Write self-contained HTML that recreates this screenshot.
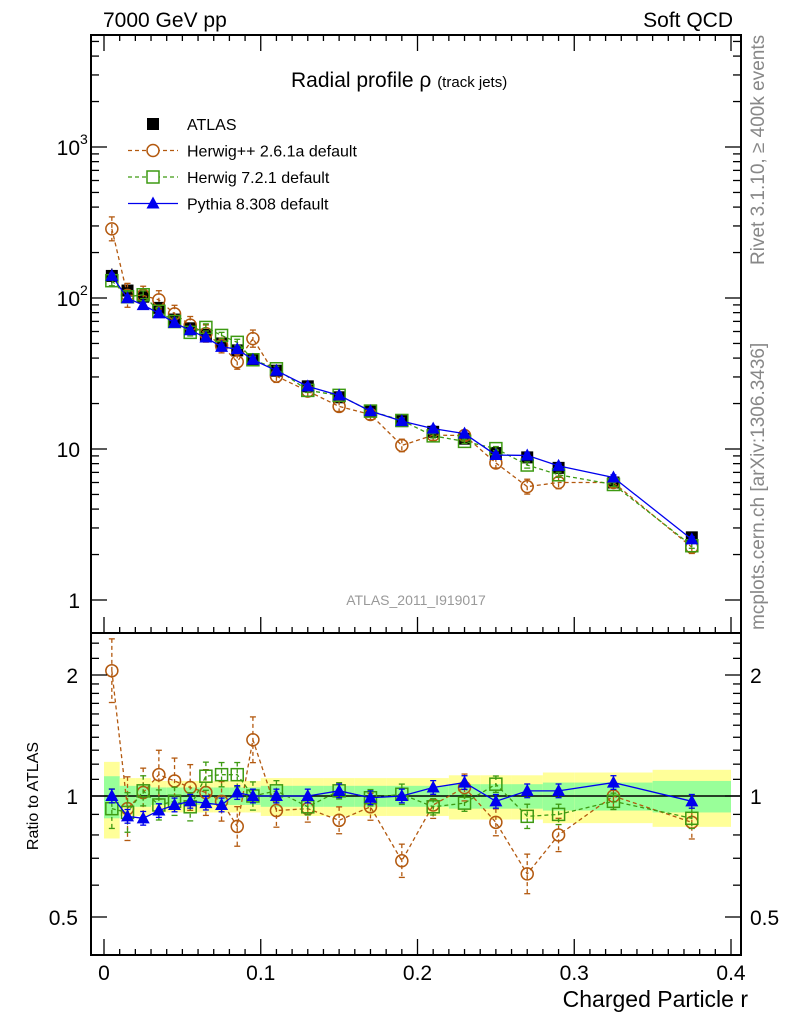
<!DOCTYPE html>
<html><head><meta charset="utf-8"><style>
body{margin:0;background:#fff}
svg{display:block;font-family:"Liberation Sans",Arial,sans-serif}
</style></head><body>
<svg id="c" width="786" height="1024" viewBox="0 0 786 1024"></svg>
<script>
const xs=[0.005,0.015,0.025,0.035,0.045,0.055,0.065,0.075,0.085,0.095,0.11,0.13,0.15,0.17,0.19,0.21,0.23,0.25,0.27,0.29,0.325,0.375];
const atlas=[140,112,102,86,72,63,57,50,45,39,33,26,22,18,15.3,13,11.7,9.4,8.8,7.5,6.0,2.6];
const atlasErr=[0.12,0.06,0.06,0.05,0.05,0.05,0.05,0.05,0.05,0.05,0.06,0.06,0.06,0.06,0.06,0.06,0.07,0.07,0.07,0.08,0.08,0.09];
const herwigpp=[2.05,0.93,1.02,1.13,1.09,1.05,1.02,0.97,0.84,1.38,0.92,0.93,0.87,0.94,0.69,0.95,1.05,0.86,0.64,0.80,1.0,0.86];
const herwig7=[0.93,0.91,1.03,0.95,0.97,0.94,1.12,1.13,1.13,1.00,1.03,0.94,1.03,0.99,1.01,0.94,0.96,1.07,0.89,0.90,0.97,0.88];
const pythia=[1.0,0.89,0.88,0.92,0.95,0.97,0.96,0.95,1.02,1.0,1.0,1.0,1.03,0.99,1.0,1.05,1.08,0.97,1.03,1.03,1.08,0.97];
const hppErr=[0.2,0.2,0.15,0.15,0.14,0.14,0.14,0.12,0.12,0.14,0.1,0.08,0.08,0.08,0.1,0.08,0.08,0.08,0.12,0.1,0.08,0.1];
const xTicks=[0,0.1,0.2,0.3,0.4];
const xTickLabels=["0","0.1","0.2","0.3","0.4"];

const S=document.getElementById('c');const NS="http://www.w3.org/2000/svg";
function el(t,a,p){const e=document.createElementNS(NS,t);for(const k in a)e.setAttribute(k,a[k]);(p||S).appendChild(e);return e;}
const L=91,R=741,T=35,M=633,B=955;
const X=v=>104+v*1567.5;
const Y=v=>600-151*Math.log10(v);
const YR=v=>796-121*Math.log2(v);
const bw=[];for(let i=0;i<xs.length;i++){bw.push(xs[i]<0.1?0.005:(xs[i]<0.3?0.01:0.025));}

const gb=el('g',{},S);
xs.forEach((x,i)=>{const e=atlasErr[i];
 el('rect',{x:X(x-bw[i]),y:YR(1+e*1.8),width:X(x+bw[i])-X(x-bw[i]),height:YR(1-e*1.8)-YR(1+e*1.8),fill:'#ffff99'},gb);
 el('rect',{x:X(x-bw[i]),y:YR(1+e),width:X(x+bw[i])-X(x-bw[i]),height:YR(1-e)-YR(1+e),fill:'#99ff99'},gb);});
el('line',{x1:L,x2:R,y1:YR(1),y2:YR(1),stroke:'#000','stroke-width':1.5});

function clipY(y,top,bot){return Math.max(top,Math.min(bot,y));}
function series(name,vals,color,dash,marker,errs,ratio){
 const g=el('g',{});
 const fy=ratio?(v=>YR(v)):(v=>Y(v));
 const pts=xs.map((x,i)=>[X(x),clipY(fy(ratio?vals[i]:atlas[i]*vals[i]),ratio?M:T,ratio?B:M)]);
 el('polyline',{points:pts.map(p=>p.join(',')).join(' '),fill:'none',stroke:color,'stroke-width':1.3,'stroke-dasharray':dash||''},g);
 xs.forEach((x,i)=>{const v=ratio?vals[i]:atlas[i]*vals[i];const e=errs[i];
  const y1=clipY(fy(v*(1+e)),ratio?M:T,ratio?B:M),y2=clipY(fy(v/(1+e)),ratio?M:T,ratio?B:M),px=X(x);
  el('line',{x1:px,x2:px,y1:y1,y2:y2,stroke:color,'stroke-width':1.3,'stroke-dasharray':dash||''},g);
  el('line',{x1:px-3,x2:px+3,y1:y1,y2:y1,stroke:color,'stroke-width':1.3},g);
  el('line',{x1:px-3,x2:px+3,y1:y2,y2:y2,stroke:color,'stroke-width':1.3},g);
  const py=fy(v);if(py<(ratio?M:T)||py>(ratio?B:M))return;
  if(marker==='o')el('circle',{cx:px,cy:py,r:6,fill:'none',stroke:color,'stroke-width':1.5},g);
  else if(marker==='s')el('rect',{x:px-6,y:py-6,width:12,height:12,fill:'none',stroke:color,'stroke-width':1.5},g);
  else if(marker==='t')el('polygon',{points:`${px},${py-7} ${px-6.5},${py+5} ${px+6.5},${py+5}`,fill:color},g);});
}
const ga=el('g',{});
xs.forEach((x,i)=>{const px=X(x),py=Y(atlas[i]);
 el('line',{x1:px,x2:px,y1:Y(atlas[i]*(1+atlasErr[i])),y2:Y(atlas[i]/(1+atlasErr[i])),stroke:'#000','stroke-width':1.3},ga);
 el('rect',{x:px-6,y:py-6,width:12,height:12,fill:'#000'},ga);});
series('herwigpp-series',herwigpp,'#b3590f','4,3','o',hppErr,false);
series('herwig7-series',herwig7,'#3d9a12','4,3','s',hppErr.map(e=>e*0.4),false);
series('pythia-series',pythia,'#0000ee','','t',pythia.map(()=>0.04),false);
series('herwigpp-ratio',herwigpp,'#b3590f','4,3','o',hppErr,true);
series('herwig7-ratio',herwig7,'#3d9a12','4,3','s',hppErr.map(e=>e*0.6),true);
series('pythia-ratio',pythia,'#0000ee','','t',pythia.map(()=>0.04),true);

el('rect',{x:L,y:T,width:R-L,height:M-T,fill:'none',stroke:'#000','stroke-width':2});
el('rect',{x:L,y:M,width:R-L,height:B-M,fill:'none',stroke:'#000','stroke-width':2});
for(let v=0;v<=0.4001;v+=0.01){const px=X(v),big=Math.abs(v*10-Math.round(v*10))<1e-6,len=big?16:6;
 for(const [y0,s] of [[B,-1],[M,-1],[T,1]]) el('line',{x1:px,x2:px,y1:y0,y2:y0+s*len,stroke:'#000','stroke-width':1.3});}
xTicks.forEach((v,i)=>{const t=el('text',{x:X(v),y:980,'font-size':21,'text-anchor':'middle'});t.textContent=xTickLabels[i];});
for(let d=0;d<=3;d++)for(let m=1;m<=9;m++){const v=m*Math.pow(10,d);const py=Y(v);if(py<T||py>M)continue;const len=m===1?16:8;
 el('line',{x1:L,x2:L+len,y1:py,y2:py,stroke:'#000','stroke-width':1.3});el('line',{x1:R,x2:R-len,y1:py,y2:py,stroke:'#000','stroke-width':1.3});}
for(const [v,lab] of [[1,'1'],[10,'10'],[100,'10'],[1000,'10']]){const t=el('text',{x:80,y:Y(v)+8,'font-size':21,'text-anchor':'end'});t.textContent=lab;
 
 if(v>=100){const s=el('text',{x:80,y:Y(v)-3,'font-size':14,'text-anchor':'start'});s.textContent=v===100?'2':'3';}}
for(const v of [0.5,0.6,0.7,0.8,0.9,1,1.1,1.2,1.3,1.4,1.5,1.6,1.7,1.8,1.9,2,2.2,2.4]){const py=YR(v);if(py<M||py>B)continue;const len=(v===0.5||v===1||v===2)?16:8;
 el('line',{x1:L,x2:L+len,y1:py,y2:py,stroke:'#000','stroke-width':1.3});el('line',{x1:R,x2:R-len,y1:py,y2:py,stroke:'#000','stroke-width':1.3});}
for(const [v,lab] of [[2,'2'],[1,'1'],[0.5,'0.5']]){for(const [x,a] of [[78,'end'],[750,'start']]){const t=el('text',{x:x,y:YR(v)+8,'font-size':21,'text-anchor':a});t.textContent=lab;}}
function txt(x,y,s,str,attrs,name){const t=el('text',Object.assign({x:x,y:y,'font-size':s},attrs||{}));t.textContent=str;return t;}
txt(103,27,21,'7000 GeV pp',{},'energy-label');
txt(733,27,21,'Soft QCD',{'text-anchor':'end'},'process-label');
const ti=txt(291,87,21,'Radial profile ',{},'plot-title');const ts=el('tspan',{},ti);ts.textContent='ρ ';const ts2=el('tspan',{'font-size':15},ti);ts2.textContent='(track jets)';
txt(748,1007,23,'Charged Particle r',{'text-anchor':'end'},'x-axis-title');
txt(0,0,16,'Ratio to ATLAS',{transform:'translate(38,796) rotate(-90)','text-anchor':'middle'},'y-axis-title');
txt(0,0,19,'Rivet 3.1.10, ≥ 400k events',{transform:'translate(764,265) rotate(-90)',fill:'#888'},'rivet-label');
txt(0,0,19,'mcplots.cern.ch [arXiv:1306.3436]',{transform:'translate(764,630) rotate(-90)',fill:'#888'},'mcplots-label');
txt(416,605,14,'ATLAS_2011_I919017',{'text-anchor':'middle',fill:'#999'},'analysis-id');
const lg=el('g',{});
const ents=[['ATLAS','#000','','S'],['Herwig++ 2.6.1a default','#b3590f','4,3','o'],['Herwig 7.2.1 default','#3d9a12','4,3','s'],['Pythia 8.308 default','#0000ee','','t']];
ents.forEach((e,i)=>{const y=124+i*26.5,cx=153;
 if(i>0)el('line',{x1:128,x2:178,y1:y,y2:y,stroke:e[1],'stroke-width':1.3,'stroke-dasharray':e[2]},lg);
 if(e[3]==='S')el('rect',{x:cx-6,y:y-6,width:12,height:12,fill:'#000'},lg);
 if(e[3]==='o')el('circle',{cx:cx,cy:y,r:6,fill:'#fff',stroke:e[1],'stroke-width':1.5},lg);
 if(e[3]==='s')el('rect',{x:cx-6,y:y-6,width:12,height:12,fill:'#fff',stroke:e[1],'stroke-width':1.5},lg);
 if(e[3]==='t')el('polygon',{points:`${cx},${y-7} ${cx-6.5},${y+5} ${cx+6.5},${y+5}`,fill:e[1]},lg);
 const t=el('text',{x:187,y:y+6,'font-size':16},lg);t.textContent=e[0];});
</script>
</body></html>
